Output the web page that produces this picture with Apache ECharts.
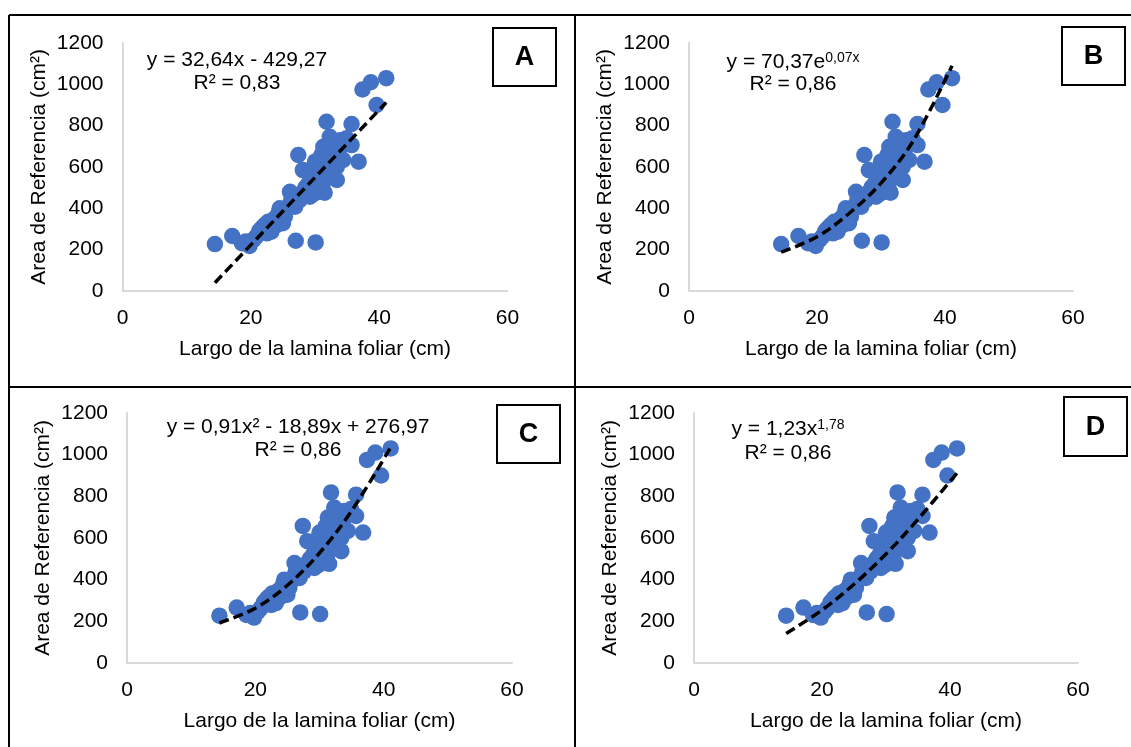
<!DOCTYPE html>
<html>
<head>
<meta charset="utf-8">
<script src="https://cdn.jsdelivr.net/npm/echarts/dist/echarts.min.js"></script>
<style>
  html, body { margin: 0; padding: 0; background: #fff; }
  #chart { width: 1131px; height: 747px; }
</style>
</head>
<body>
<div id="chart"></div>
<script>
// largo de la lamina (cm) / area de referencia (cm2)
const largo = [14.4, 17.1, 18.6, 19.2, 19.8, 20.4, 20.8, 21.3, 21.6, 21.9, 22.2, 22.5, 22.7, 23.0, 23.2, 23.4,
  23.7, 24.0, 24.1, 24.3, 24.5, 24.8, 25.0, 25.3, 25.6, 25.9, 26.1, 26.3, 26.5, 26.6, 26.9, 27.0,
  27.2, 27.4, 27.6, 27.8, 28.1, 28.2, 28.5, 28.7, 29.0, 29.2, 29.4, 29.7, 29.8, 30.0, 30.1, 30.2,
  30.5, 30.5, 30.8, 30.9, 31.0, 31.2, 31.3, 31.5, 31.6, 31.8, 31.8, 32.0, 32.1, 32.3, 32.4, 32.5,
  32.6, 32.8, 33.0, 33.2, 33.4, 33.4, 33.7, 33.9, 34.0, 34.4, 34.5, 34.9, 35.0, 35.7, 35.7, 36.8,
  37.4, 38.7, 39.6, 41.1];
const area = [227, 266, 231, 240, 218, 247, 262, 290, 300, 311, 320, 279, 335, 305, 287, 340,
  350, 319, 360, 376, 400, 385, 328, 360, 392, 410, 480, 440, 420, 448, 408, 243,
  460, 658, 440, 470, 585, 480, 500, 505, 520, 456, 540, 594, 470, 626, 235, 537,
  480, 560, 585, 610, 658, 520, 698, 476, 600, 819, 640, 680, 618, 746, 580, 700,
  553, 682, 660, 640, 601, 537, 690, 730, 700, 634, 720, 739, 720, 706, 808, 626,
  975, 1010, 900, 1030];

// trend lines, points
const trendA = [[14.4, 40], [41.1, 912]];
const trendB = [[14.4, 188], [20, 262], [25, 375], [30, 522], [35, 725], [41.1, 1090]];
const trendC = [[14.4, 192], [20, 263], [25, 373], [30, 528], [35, 730], [41.1, 1036]];
const trendD = [[14.4, 142], [20, 254], [25, 378], [30, 523], [35, 690], [41.1, 912]];

const xTicks = [0, 20, 40, 60];
const yTicks = [0, 200, 400, 600, 800, 1000, 1200];

const FONT = '"Liberation Sans", Arial, sans-serif';
const points = largo.map((v, i) => [v, area[i]]);

const panels = [
  { tag: 'A', trend: trendA, grid: { left: 122.5, top: 43, width: 385, height: 248 }, box: [493, 28, 63, 58],
    eq: '{t|y = 32,64x - 429,27}', r2: 'R² = 0,83', eqPos: [237, 60], r2Pos: [237, 83] },
  { tag: 'B', trend: trendB, grid: { left: 689, top: 43, width: 384, height: 248 }, box: [1062, 27, 63, 58],
    eq: '{t|y = 70,37e}{s|0,07x}', r2: 'R² = 0,86', eqPos: [793, 62], r2Pos: [793, 84] },
  { tag: 'C', trend: trendC, grid: { left: 127, top: 413, width: 385, height: 250 }, box: [497, 405, 63, 58],
    eq: '{t|y = 0,91x² - 18,89x + 276,97}', r2: 'R² = 0,86', eqPos: [298, 427], r2Pos: [298, 450] },
  { tag: 'D', trend: trendD, grid: { left: 694, top: 413, width: 384, height: 250 }, box: [1064, 397, 63, 59],
    eq: '{t|y = 1,23x}{s|1,78}', r2: 'R² = 0,86', eqPos: [788, 429], r2Pos: [788, 453] }
];

const axisLine = { show: true, lineStyle: { color: '#d9d9d9', width: 2 } };
const plain = v => String(v);

const grid = [], xAxis = [], yAxis = [], series = [], graphic = [];

// table borders
[[9, 15, 1131, 15], [9, 15, 9, 747], [575, 15, 575, 747], [9, 387, 1131, 387]].forEach(s => {
  graphic.push({ type: 'line', shape: { x1: s[0], y1: s[1], x2: s[2], y2: s[3] },
    style: { stroke: '#000', lineWidth: 2 }, z: 10 });
});

panels.forEach((p, i) => {
  grid.push(Object.assign({ containLabel: false }, p.grid));
  xAxis.push({
    gridIndex: i, type: 'value', min: xTicks[0], max: xTicks[xTicks.length - 1], interval: 20,
    name: 'Largo de la lamina foliar (cm)', nameLocation: 'middle', nameGap: 48,
    nameTextStyle: { color: '#000', fontSize: 21, fontFamily: FONT },
    axisLine, axisTick: { show: false }, splitLine: { show: false },
    axisLabel: { color: '#000', fontSize: 21, fontFamily: FONT, margin: 17, formatter: plain }
  });
  yAxis.push({
    gridIndex: i, type: 'value', min: yTicks[0], max: yTicks[yTicks.length - 1], interval: 200,
    name: 'Area de Referencia (cm²)', nameLocation: 'middle', nameGap: 73,
    nameTextStyle: { color: '#000', fontSize: 21, fontFamily: FONT },
    axisLine, axisTick: { show: false }, splitLine: { show: false },
    axisLabel: { color: '#000', fontSize: 21, fontFamily: FONT, margin: 19, formatter: plain }
  });
  series.push({
    type: 'scatter', xAxisIndex: i, yAxisIndex: i, data: points,
    symbolSize: 16.5, itemStyle: { color: '#4472C4', opacity: 1 }, z: 2
  });
  series.push({
    type: 'line', xAxisIndex: i, yAxisIndex: i, data: p.trend,
    showSymbol: false, smooth: p.trend.length > 2 ? 0.35 : false,
    lineStyle: { color: '#000', width: 3.5, type: [10, 5] }, z: 3, silent: true
  });

  graphic.push({
    type: 'rect', shape: { x: p.box[0], y: p.box[1], width: p.box[2], height: p.box[3] },
    style: { fill: '#fff', stroke: '#000', lineWidth: 2 }, z: 10
  });
  graphic.push({
    type: 'text', x: p.box[0] + p.box[2] / 2, y: p.box[1] + p.box[3] / 2 + 1, z: 11,
    style: { text: p.tag, fill: '#000', font: 'bold 27px ' + FONT, textAlign: 'center', textVerticalAlign: 'middle' }
  });
  graphic.push({
    type: 'text', x: p.eqPos[0], y: p.eqPos[1], z: 11,
    style: {
      text: p.eq, textAlign: 'center', textVerticalAlign: 'middle',
      rich: {
        t: { fontSize: 21, fontFamily: FONT, fill: '#000', color: '#000' },
        s: { fontSize: 14, fontFamily: FONT, fill: '#000', color: '#000', verticalAlign: 'top' }
      }
    }
  });
  graphic.push({
    type: 'text', x: p.r2Pos[0], y: p.r2Pos[1], z: 11,
    style: { text: p.r2, fill: '#000', font: '21px ' + FONT, textAlign: 'center', textVerticalAlign: 'middle' }
  });
});

const chart = echarts.init(document.getElementById('chart'), null, { renderer: 'canvas' });
chart.setOption({
  animation: false,
  backgroundColor: '#fff',
  grid, xAxis, yAxis, series, graphic
});
</script>
</body>
</html>
